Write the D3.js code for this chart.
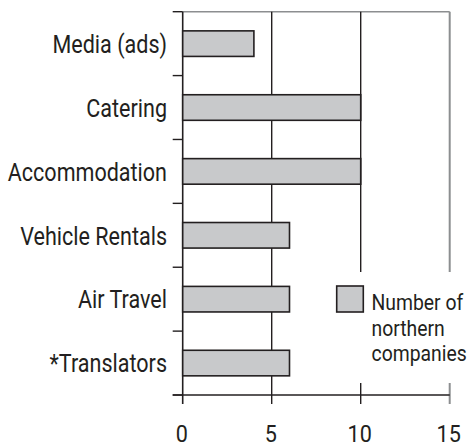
<!DOCTYPE html>
<html><head><meta charset="utf-8">
<script src="https://cdn.jsdelivr.net/npm/d3@7"></script>
<style>
html,body{margin:0;padding:0;background:#fff;}
svg{display:block;}
text{font-family:Roboto,"Liberation Sans",sans-serif;fill:#231f20;}
</style></head>
<body>
<script>
const categories = ["Media (ads)", "Catering", "Accommodation", "Vehicle Rentals", "Air Travel", "*Translators"];
const values = [4, 10, 10, 6, 6, 6];
const xTicks = [0, 5, 10, 15];
const legendLines = ["Number of", "northern", "companies"];

(function () {
const W = 468, H = 447;
const svg = d3.select("body").append("svg").attr("width", W).attr("height", H);

const x = d3.scaleLinear().domain([0, 15]).range([182.7, 449.7]);
const y = d3.scaleBand().domain(categories).range([11.7, 395]).paddingInner(0.6).paddingOuter(0.3);
const step = y.step();
const plotTop = 11.7, plotBottom = 395;
const dark = "#231f20", grey = "#8c8e90";
const legBox = {x0: 330, y0: 272, y1: 383};
const condense = 0.845;

// top border
svg.append("line").attr("x1", x(0)).attr("x2", x(15)).attr("y1", plotTop).attr("y2", plotTop)
  .attr("stroke", grey).attr("stroke-width", 1.5);

// gridlines (broken by legend for 10 and 15)
xTicks.filter(t => t > 0).forEach(t => {
  const col = t === 15 ? grey : dark;
  const w = t === 15 ? 2 : 1.4;
  if (x(t) > legBox.x0) {
    svg.append("line").attr("x1", x(t)).attr("x2", x(t)).attr("y1", plotTop).attr("y2", legBox.y0)
      .attr("stroke", col).attr("stroke-width", w);
    svg.append("line").attr("x1", x(t)).attr("x2", x(t)).attr("y1", legBox.y1).attr("y2", plotBottom + 9)
      .attr("stroke", col).attr("stroke-width", w);
  } else {
    svg.append("line").attr("x1", x(t)).attr("x2", x(t)).attr("y1", plotTop).attr("y2", plotBottom + 9)
      .attr("stroke", col).attr("stroke-width", w);
  }
});

// bottom axis line
svg.append("line").attr("x1", x(0) - 10).attr("x2", x(15)).attr("y1", plotBottom).attr("y2", plotBottom)
  .attr("stroke", dark).attr("stroke-width", 1.4);

// left axis
svg.append("line").attr("x1", x(0)).attr("x2", x(0)).attr("y1", plotTop).attr("y2", plotBottom + 9)
  .attr("stroke", dark).attr("stroke-width", 1.6);
// left ticks at band boundaries
d3.range(categories.length + 1).forEach(i => {
  const yy = plotTop + i * step;
  svg.append("line").attr("x1", x(0) - 10).attr("x2", x(0)).attr("y1", yy).attr("y2", yy)
    .attr("stroke", dark).attr("stroke-width", 1.4);
});

// bars
svg.selectAll("rect.bar").data(categories).enter().append("rect").attr("class", "bar")
  .attr("x", x(0)).attr("y", d => y(d))
  .attr("width", (d, i) => x(values[i]) - x(0)).attr("height", y.bandwidth())
  .attr("fill", "#c8c9cb").attr("stroke", dark).attr("stroke-width", 1.6);

function ctext(px, py, str, size, anchor, k) {
  svg.append("g").attr("transform", `translate(${px},${py}) scale(${k},1)`)
    .append("text").attr("text-anchor", anchor).attr("font-size", size).text(str);
}

// category labels
categories.forEach(d => ctext(167, y(d) + y.bandwidth() / 2 + 9.3, d, 25.5, "end", condense));

// x tick labels
xTicks.forEach(t => ctext(x(t) - 1, 441.5, String(t), 23.5, "middle", 0.92));

// legend
svg.append("rect").attr("x", 336.7).attr("y", 286).attr("width", 26.6).attr("height", 26)
  .attr("fill", "#c8c9cb").attr("stroke", dark).attr("stroke-width", 1.6);
legendLines.forEach((t, i) => ctext(371.5, 310 + i * 25.5, t, 22, "start", 0.88));
})();
</script>
</body></html>
